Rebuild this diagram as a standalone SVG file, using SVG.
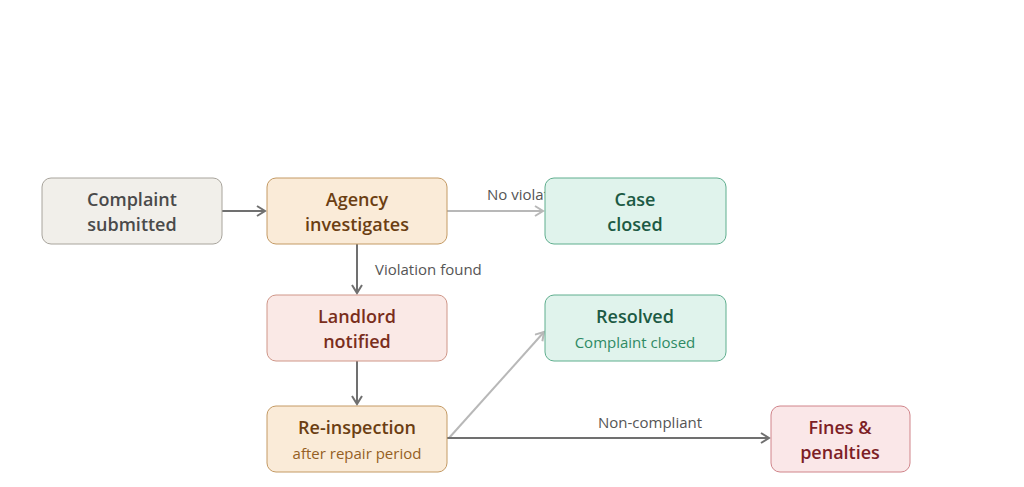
<svg xmlns="http://www.w3.org/2000/svg" width="1024" height="487" viewBox="0 0 1024 487">
<style>
text{font-family:"Segoe UI","Open Sans","Noto Sans",sans-serif;text-anchor:middle}
.t{font-size:18px;font-weight:600}
.s{font-size:15px}
.l{font-size:15px;fill:#555;text-anchor:start}
.dk{stroke:#707070;stroke-width:2;fill:none}
.lt{stroke:#b8b8b8;stroke-width:2;fill:none}
</style>
<defs>
<marker id="ad" markerWidth="12" markerHeight="12" refX="10" refY="6" orient="auto" markerUnits="userSpaceOnUse"><path d="M2,1 L10,6 L2,11" fill="none" stroke="#707070" stroke-width="2"/></marker>
<marker id="al" markerWidth="12" markerHeight="12" refX="10" refY="6" orient="auto" markerUnits="userSpaceOnUse"><path d="M2,1 L10,6 L2,11" fill="none" stroke="#b8b8b8" stroke-width="2"/></marker>
</defs>
<rect width="1024" height="487" fill="#fff"/>
<g id="connectors">
<line class="dk" x1="222" y1="211" x2="265" y2="211" marker-end="url(#ad)"/>
<line class="lt" x1="447" y1="211" x2="543" y2="211" marker-end="url(#al)"/>
<text class="l" x="487" y="200">No violation</text>
<line class="dk" x1="357" y1="244" x2="357" y2="293" marker-end="url(#ad)"/>
<text class="l" x="375" y="275">Violation found</text>
<line class="dk" x1="357" y1="361" x2="357" y2="404" marker-end="url(#ad)"/>
<line class="lt" x1="449" y1="438" x2="544" y2="332" marker-end="url(#al)"/>
<line class="dk" x1="447" y1="438" x2="769" y2="438" marker-end="url(#ad)"/>
<text class="l" x="598" y="428">Non-compliant</text>
</g>
<g id="complaint"><rect x="42" y="178" width="180" height="66" rx="9" fill="#f1efea" stroke="#a8a49c"/>
<text class="t" x="132" y="206" fill="#4a4a4a">Complaint</text><text class="t" x="132" y="231" fill="#4a4a4a">submitted</text></g>
<g id="agency"><rect x="267" y="178" width="180" height="66" rx="9" fill="#faebd8" stroke="#c49a64"/>
<text class="t" x="357" y="206" fill="#6b3e12">Agency</text><text class="t" x="357" y="231" fill="#6b3e12">investigates</text></g>
<g id="case"><rect x="545" y="178" width="181" height="66" rx="9" fill="#e0f3ec" stroke="#5fae8e"/>
<text class="t" x="635" y="206" fill="#1c5a44">Case</text><text class="t" x="635" y="231" fill="#1c5a44">closed</text></g>
<g id="landlord"><rect x="267" y="295" width="180" height="66" rx="9" fill="#fae9e6" stroke="#cf9688"/>
<text class="t" x="357" y="323" fill="#7a2e1c">Landlord</text><text class="t" x="357" y="348" fill="#7a2e1c">notified</text></g>
<g id="resolved"><rect x="545" y="295" width="181" height="66" rx="9" fill="#e0f3ec" stroke="#5fae8e"/>
<text class="t" x="635" y="323" fill="#1c5a44">Resolved</text><text class="s" x="635" y="348" fill="#2e8a64">Complaint closed</text></g>
<g id="reinspection"><rect x="267" y="406" width="180" height="66" rx="9" fill="#faebd8" stroke="#c49a64"/>
<text class="t" x="357" y="434" fill="#6b3e12">Re-inspection</text><text class="s" x="357" y="459" fill="#955f24">after repair period</text></g>
<g id="fines"><rect x="771" y="406" width="139" height="66" rx="9" fill="#fae7e8" stroke="#d0848a"/>
<text class="t" x="840" y="434" fill="#7d1e26">Fines &amp;</text><text class="t" x="840" y="459" fill="#7d1e26">penalties</text></g>
</svg>
